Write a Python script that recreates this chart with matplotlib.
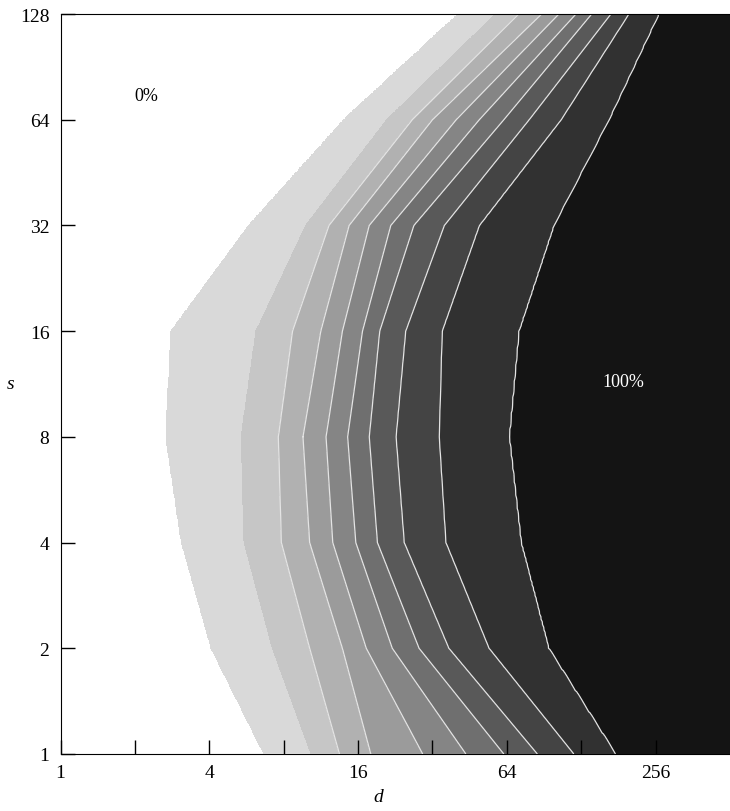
import numpy as np
import matplotlib
matplotlib.use("Agg")
import matplotlib.pyplot as plt
from matplotlib.ticker import FuncFormatter, NullLocator

# rows of the table: s values
s_vals = [1, 2, 4, 8, 16, 32, 64, 128]
# band boundaries (percent) between the shaded bands 0%,10%,...,100%
levels_pct = [5, 15, 25, 35, 45, 55, 65, 75, 85, 95]

# log2(d) where each boundary crosses the row
b_s1 = [2.74, 3.37, 3.75, 4.17, 4.87, 5.45, 5.96, 6.41, 6.90, 7.46]
b_s2 = [2.03, 2.85, 3.35, 3.79, 4.11, 4.46, 4.82, 5.22, 5.76, 6.56]
b_s4 = [1.63, 2.47, 2.97, 3.35, 3.66, 3.97, 4.26, 4.62, 5.18, 6.19]
b_s8 = [1.42, 2.43, 2.93, 3.26, 3.57, 3.86, 4.15, 4.51, 5.09, 6.03]
b_s16 = [1.49, 2.63, 3.12, 3.50, 3.79, 4.06, 4.29, 4.64, 5.13, 6.16]
b_s32 = [2.54, 3.30, 3.61, 3.88, 4.15, 4.44, 4.75, 5.16, 5.63, 6.63]
b_s64 = [3.82, 4.39, 4.73, 5.00, 5.32, 5.63, 5.96, 6.30, 6.73, 7.37]
b_s128 = [5.36, 5.85, 6.16, 6.47, 6.70, 6.93, 7.14, 7.40, 7.64, 8.04]

# grey shades for the 11 bands (first one left unfilled)
band_colors = [(1, 1, 1, 0), '#d9d9d9', '#c6c6c6', '#b1b1b1', '#9b9b9b',
               '#858585', '#6f6f6f', '#595959', '#444444', '#313131', '#141414']

plt.rcParams['font.family'] = ['Liberation Serif', 'DejaVu Serif']
plt.rcParams['font.size'] = 14

# build the grid that contourf needs from the crossings (log2 units on both axes)
crossings = np.array([b_s1, b_s2, b_s4, b_s8, b_s16, b_s32, b_s64, b_s128])
ly = np.log2(s_vals)
lx = np.linspace(0, 9, 451)
ly_grid = np.linspace(0, 7, 281)
# boundaries run straight between the rows
bounds = np.array([np.interp(ly_grid, ly, crossings[:, j])
                   for j in range(len(levels_pct))]).T
Z = np.array([np.interp(lx, [-1] + list(b) + [10], [0] + levels_pct + [100])
              for b in bounds])
X, Y = np.meshgrid(lx, ly_grid)

fig = plt.figure(figsize=(7.3, 8.12), dpi=100)
ax = fig.add_axes([60.5 / 730, 1 - 755 / 812, 669.5 / 730, 740 / 812])

ax.contourf(X, Y, Z, levels=[-10] + levels_pct + [110], colors=band_colors,
            zorder=1)
ax.contour(X, Y, Z, levels=levels_pct[2:], colors='#e4e4e4', linewidths=0.9,
           zorder=1.5)

ax.set_xlim(0, 9)
ax.set_ylim(0, 7)

pow2 = FuncFormatter(lambda v, pos: '%d' % round(2 ** v))
xticks = list(range(9))
ax.set_xticks(xticks)
ax.set_xticklabels([str(2 ** k) if k % 2 == 0 else '' for k in xticks])
ax.set_yticks(ly)
ax.yaxis.set_major_formatter(pow2)
ax.xaxis.set_minor_locator(NullLocator())
ax.yaxis.set_minor_locator(NullLocator())
ax.tick_params(axis='x', direction='in', length=10, width=1, pad=7)
ax.tick_params(axis='y', direction='in', length=10, width=1, pad=8)
# ticks over the dark bands are light
for tick, k in zip(ax.xaxis.get_major_ticks(), xticks):
    if k >= 6:
        tick.tick1line.set_color('#d6d6d6')

ax.spines['right'].set_visible(False)
ax.spines['bottom'].set_zorder(0.5)

ax.set_xlabel('d', fontstyle='italic')
ax.xaxis.set_label_coords(0.474, -0.057)
ax.xaxis.label.set_va('center')
ax.set_ylabel('s', fontstyle='italic', rotation=0)
ax.yaxis.set_label_coords(-0.075, 0.5)
ax.yaxis.label.set_va('center')
ax.yaxis.label.set_ha('center')

# band labels, placed at (log2 d, log2 s)
ax.text(np.log2(2.23), np.log2(75), '0%', ha='center', va='center', fontsize=13)
ax.text(np.log2(190), np.log2(11.5), '100%', ha='center', va='center',
        fontsize=13, color='white')

plt.savefig('out.png', dpi=100)
